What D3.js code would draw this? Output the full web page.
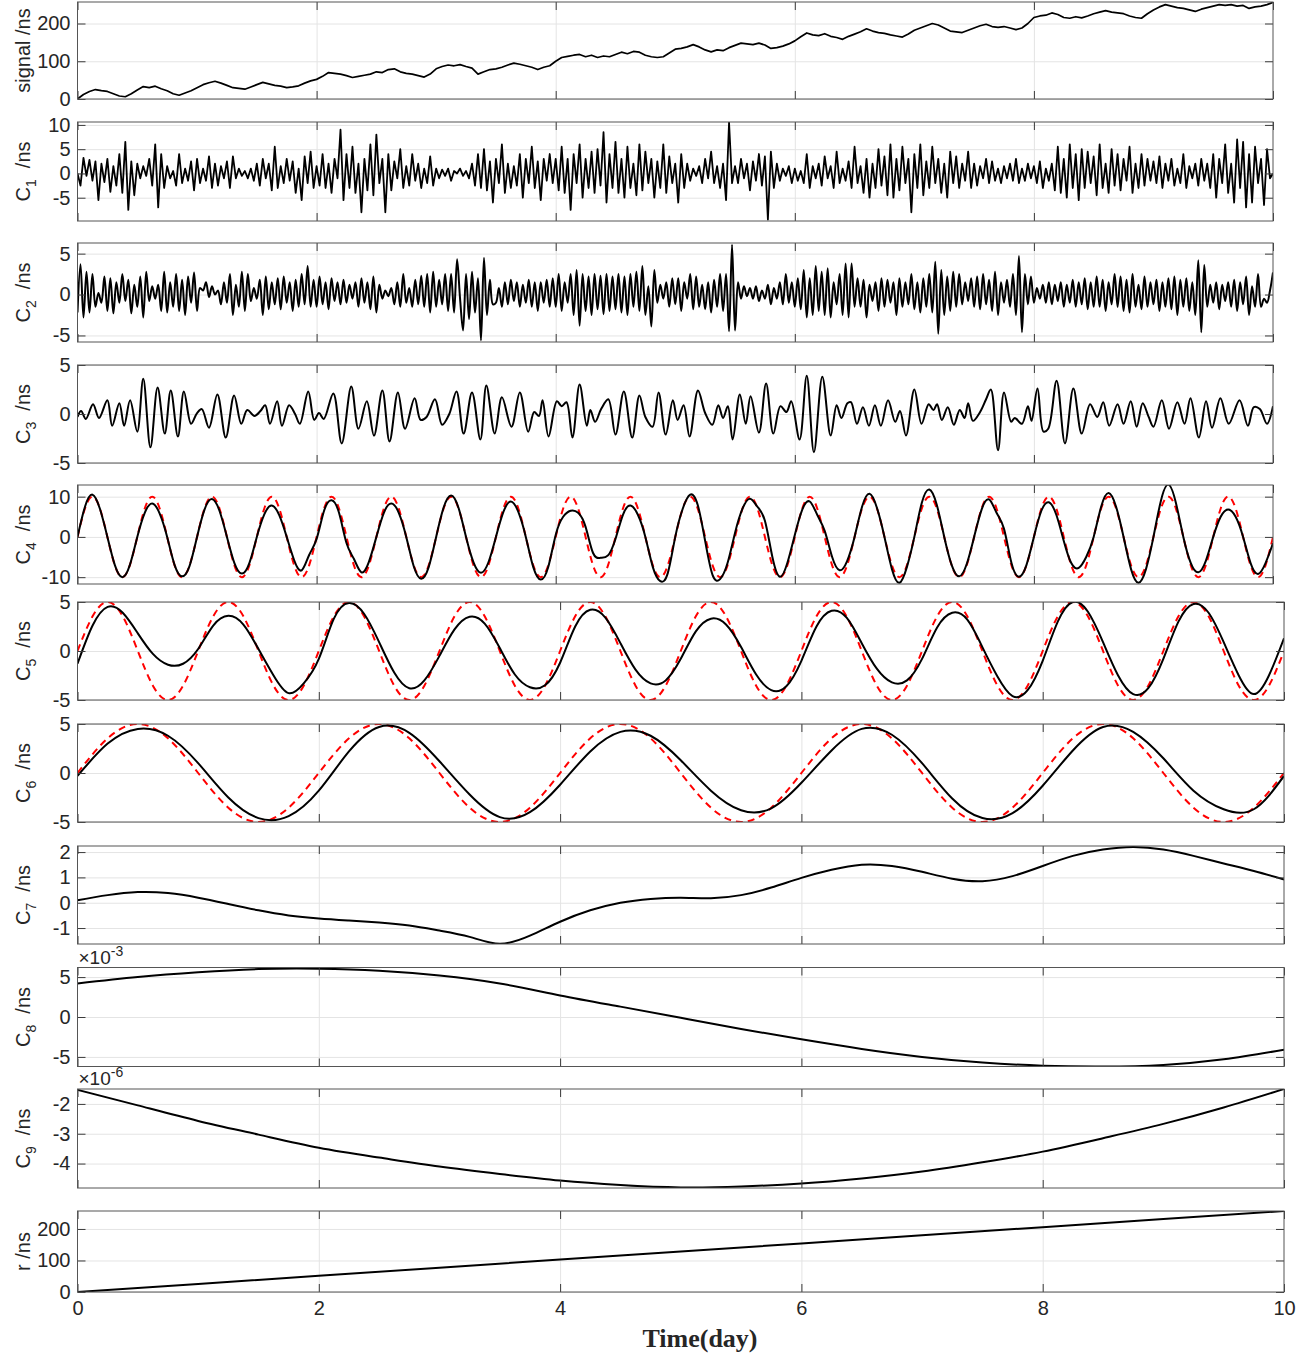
<!DOCTYPE html>
<html lang="en">
<head>
<meta charset="UTF-8"/>
<script src="https://d3js.org/d3.v7.min.js"></script>
<style>
  body { margin: 0; background: #fff; }
  text { font-family: "Liberation Sans", Arial, sans-serif; fill: #262626; }
</style>
<title>Decomposition panels</title>
</head>
<body>
<script>
// x axis: time in days
var dayTicks = [0, 2, 4, 6, 8, 10];

// raw signal, one value every 0.05 day
var signal = [0,12,20,25,22,20,14,8,6,14,
  24,33,30,34,27,22,14,10,16,22,
  30,38,43,47,42,36,30,28,26,32,
  38,44,40,36,34,30,32,35,42,48,
  52,60,70,68,66,62,57,60,63,66,
  72,70,78,80,72,68,66,62,58,66,
  80,86,90,88,91,86,82,66,72,78,
  80,84,90,95,92,88,84,78,84,88,
  100,110,113,116,118,112,116,110,114,112,
  118,124,120,126,124,116,112,110,112,122,
  132,134,138,144,138,130,125,130,128,136,
  142,148,146,144,148,143,134,136,140,146,
  154,165,175,170,168,173,166,163,158,166,
  172,178,186,180,176,174,170,167,164,172,
  182,188,194,200,196,188,180,178,176,182,
  188,194,198,192,190,192,188,184,188,200,
  216,220,222,228,224,216,214,218,215,220,
  226,230,234,230,228,226,220,216,214,226,
  236,244,250,246,242,240,236,232,238,242,
  246,250,248,250,246,248,240,244,246,250,
  256];

// C1, every 0.025 day
var c1 = [0,-2.5,3.2,-0.5,2.8,-1.5,2.5,-5.5,2,-1.8,3,-3.8,1.5,-2.5,4,-4,6.5,-7.5,2.5,-4.5,
  2,-1,1.5,-0.5,3,-2.5,6,-7,4,-3,1.5,-1,0.5,-2.5,4,-2,1,-1.5,2.5,-3.5,
  3,-2,1,-1.5,3.5,-3,2,-2.5,1.5,-1,2.5,-3,3.5,-1,1,-0.5,0.5,-1,1,-1.5,
  2,-2.5,3,-1,2,-3.5,5.5,-3,1.5,-2,3,-1.5,2.5,-4,1,-5.5,3.5,-2,4.5,-3,
  1.5,-2.5,4,-3,2,-4,3,-1,9,-5.5,4,-3,5.5,-4,2,-8,3,-3.5,6,-4.5,
  8,-2,3,-8,4,-3.5,2.5,-1,5,-3,1.5,-2.5,4,-1.5,2,-3,1,-2,3.5,-2.5,
  1,-1,0.8,-0.5,1,-1.5,0.5,0,1,-0.5,0.5,-1,2,-2.5,4,-3,5,-3.5,2.5,-6,
  3,-2,6,-4,2,-3,1.5,-2.5,4,-5,3,-2,5.5,-3,2.5,-5.5,3,-1.5,4,-2,
  3,-3.5,5.5,-4,3,-7.5,4,-2,6,-5,3,-3,4.5,-4,5,-2.5,8.5,-6,4,-3,
  6.5,-4,3,-5,5.5,-3,2,-4.5,6,-3.5,4.5,-2,3,-5,2.5,-3,6,-4,3.5,-2,
  2,-6,4,-3,2,-1.5,1,-0.5,1.5,-2,3,-1,4.5,-2,1.5,-3,2,-5.5,10.5,-2,
  1.5,-2,3,-1,2,-3.5,2.5,-1.5,4,-2.5,3.5,-9.5,4.5,-3,2,-1.5,1,-0.5,1.5,-2,
  1,-1.5,0.5,-2,4,-3,1.5,-1,2,-2.5,3.5,-1,1.5,-3,4.5,-2,1,-1.5,2.5,-3,
  5.5,-2,1.5,-4,3,-5,2,-3,5,-2.5,3.5,-4.5,6,-5,3,-3.5,5.5,-2,3,-8,
  4,-3,6,-4.5,2.5,-3,5.5,-2,3,-4,2,-5,4.5,-2,3.5,-3,2,-1.5,4.5,-3,
  2,-2.5,1.5,-1,3,-2,2.5,-1.5,1,-2,1.5,-1,2,-1.5,3,-2,1,-1.5,2,-1,
  1.5,-2,2.5,-3,1,-1.5,2,-3.5,5.5,-4,3,-5,6,-3,4,-5.5,5,-3,4.5,-2,
  3.5,-4.5,6,-3,2,-4,5,-2.5,4,-3.5,3,-1.5,5.5,-4,2,-3,4,-2.5,3,-1.5,
  2.5,-2,3.5,-3,2,-1.5,3,-2.5,1,-2,4,-3,1.5,-1,2,-2.5,3,-1.5,2,-3,
  4,-5,3,-2,6,-4,2,-6,7,-3,6.5,-7,4,-6,5.5,-2,3,-6.5,5,-1,
  0];

// C2, every 0.025 day
var c2 = [-2.2,3.7,-2.8,2.8,-2.2,2.5,-1.5,0.2,-1,2.2,-2,2,-2.3,1.5,-1,2.5,-0.8,1.8,-2.3,1.2,
  -1.5,2.2,-2.8,2.8,-0.8,1,-0.5,1.2,-2,2.8,-2.2,1.5,-1.5,2.5,-2,1.8,-2.5,2.2,-1,2.7,
  -2,0.8,0.5,1.5,-0.3,1,0,0.5,-1.2,1.5,-1,2.5,-2.5,1.2,-1.5,2.8,-2,2.5,-0.8,0.8,
  -0.5,1.8,-2.5,2.2,-1.8,1.5,-1.2,2,-1.8,2.2,-1,1.5,-2,1.8,-1.5,2.5,-1.2,3.5,-1.5,1.8,
  -1.5,2.2,-1.2,1.5,-1.8,2,-0.8,1.5,-1.2,1.8,-1,1.2,-0.5,1.5,-1.5,2,-1,1.5,-1.8,2.2,
  -2.2,1.2,-0.5,0.5,-0.2,0.8,-1.2,1.5,-1.5,2.5,-1,0.8,-1.5,1.8,-1.2,2.3,-1.5,2.5,-2.2,2.8,
  -1.5,1.8,-1.2,2.5,-2,2.5,-2.2,4.3,-0.5,-4.4,2.5,-3,2.8,-2.2,2,-5.6,4.5,-2.5,1.8,-1.2,
  -1,0.8,-1.5,1.5,-1.2,1.8,-0.8,1.5,-1.5,1.2,-1,1.8,-1.5,1.5,-2,1.5,-1,1.8,-1.5,2,
  -1.5,2.5,-2,1.5,-1,2.5,-2.5,3,-3.8,2.5,-2,2.2,-2.5,2.5,-1.8,2.3,-2.4,2.5,-2,2.2,
  -1.8,2.5,-2.2,2.2,-2.5,2.5,-1.5,2.8,-2,3.5,-2.5,1,-3.9,3,-1,1.2,-0.5,1.5,-1.5,2,
  -1.2,2,-2,1.5,-0.5,2.5,-1.8,2.2,-1.5,1.2,-1.8,1.5,-2.2,1.8,-1.5,2.5,-2,2.5,-4.5,6.1,
  -4.4,1.5,-0.5,1,-0.2,0.8,-0.5,1,-0.8,0.5,-0.5,1.2,-1.2,0.8,-0.5,1.5,-1.2,2.5,-1,1.5,
  -1.5,2,-1.8,3,-2.8,2,-2.5,3.5,-2,2.8,-2.5,3.2,-2.8,1.5,-1.2,2.5,-2.5,3.8,-2.8,3.8,
  -1.5,2,-1.5,1.8,-2.8,1.2,-0.8,1.5,-2,2,-1.5,1.8,-1,1.5,-2.5,2,-1.5,1.5,-1.2,2.5,
  -1.8,1.5,-2.2,2,-1.5,2.5,-2.2,4,-4.8,3,-2.5,2.2,-2,2.8,-1.5,2.5,-1.2,1.5,-0.8,2,
  -1.5,2.2,-1.8,2.5,-1.2,1.8,-2,2.8,-2.5,1.5,-1,1.8,-1.5,2.5,-2.5,4.7,-4.6,2.5,-1.2,2.2,
  -1,0.8,-0.5,1.2,-1,1.5,-1.2,1.2,-0.8,1.5,-1.5,1.2,-1,1.8,-1.5,1.5,-1.2,2,-1.8,1.5,
  -1.5,2.2,-1.5,1.8,-2,1.5,-1.2,2.5,-1.5,2.2,-2,1.8,-2.2,2.5,-1.5,1.2,-1.8,2.2,-1.5,1.5,
  -1.2,1.8,-2,1.5,-1.5,2,-1.8,2.2,-2.5,1.8,-1.5,2,-2,1.5,-2.5,4.2,-4.6,3.6,-1.5,1.2,
  -1,1.5,-1.8,1.2,-0.8,1.5,-1.5,1.8,-2,1.5,-1.2,2.2,-2.5,1,-1.5,2.5,-1.5,-0.5,-1,0.5,
  2.7];

// C3, [day, value] at its turning points
var c3 = [[0,-0.3],[0.03,0.3],[0.07,-0.5],[0.13,1.0],[0.18,-0.4],[0.25,1.4],[0.29,-1.2],[0.35,1.1],
  [0.39,-1.2],[0.44,1.4],[0.50,-1.8],[0.55,3.6],[0.61,-3.4],[0.67,2.7],[0.73,-2.0],[0.78,2.4],
  [0.84,-2.3],[0.89,2.3],[0.95,-1.0],[1.00,0.1],[1.04,0.5],[1.10,-1.4],[1.17,2.0],[1.24,-2.4],
  [1.31,1.9],[1.37,-1.0],[1.42,0.4],[1.48,-0.2],[1.53,0.3],[1.57,0.9],[1.61,-1.0],[1.67,1.3],
  [1.71,-1.2],[1.77,0.9],[1.82,0.0],[1.86,-1.0],[1.93,2.3],[1.98,-0.6],[2.02,0.1],[2.06,-0.5],
  [2.14,2.1],[2.21,-3.0],[2.29,2.8],[2.35,-1.5],[2.42,1.3],[2.48,-2.2],[2.55,2.4],[2.61,-2.8],
  [2.68,2.2],[2.74,-1.5],[2.82,1.6],[2.87,-0.6],[2.92,-0.3],[2.99,1.5],[3.05,-1.1],[3.11,0.0],
  [3.17,2.3],[3.23,-2.0],[3.30,2.2],[3.37,-2.6],[3.42,2.9],[3.49,-2.0],[3.55,1.7],[3.63,-1.3],
  [3.70,2.2],[3.77,-1.8],[3.82,0.2],[3.86,-0.2],[3.89,1.4],[3.94,-2.3],[4.01,1.3],[4.05,0.8],
  [4.09,1.2],[4.14,-2.4],[4.20,3.0],[4.26,-1.2],[4.29,0.4],[4.33,-0.8],[4.38,0.5],[4.44,1.5],
  [4.50,-2.1],[4.57,2.3],[4.64,-2.4],[4.70,1.9],[4.75,-0.3],[4.81,-1.3],[4.86,2.2],[4.92,-2.1],
  [4.98,1.4],[5.02,-0.6],[5.07,0.9],[5.12,-2.3],[5.19,2.4],[5.25,0.1],[5.31,-1.1],[5.36,0.9],
  [5.40,-0.4],[5.44,0.8],[5.48,-2.6],[5.54,2.0],[5.59,-1.0],[5.63,1.8],[5.70,-1.9],[5.76,3.1],
  [5.82,-2.0],[5.88,0.8],[5.93,0.2],[5.97,1.3],[6.04,-2.6],[6.10,3.9],[6.16,-3.9],[6.23,3.8],
  [6.30,-2.2],[6.35,0.9],[6.39,-0.4],[6.44,1.1],[6.47,1.2],[6.52,-1.0],[6.57,0.7],[6.62,-1.2],
  [6.67,0.9],[6.72,-1.2],[6.78,1.4],[6.84,-0.8],[6.88,0.3],[6.93,-2.2],[7.00,2.5],[7.06,-1.0],
  [7.12,1.0],[7.16,0.4],[7.19,1.0],[7.23,-0.6],[7.28,0.7],[7.33,-1.1],[7.38,0.4],[7.42,-0.4],
  [7.45,1.1],[7.49,-0.7],[7.55,0.2],[7.60,1.5],[7.64,2.5],[7.70,-3.7],[7.75,2.2],[7.81,-0.8],
  [7.84,-0.4],[7.90,-1.0],[7.95,0.8],[7.98,-0.7],[8.03,2.6],[8.08,-1.8],[8.12,-1.5],[8.19,3.4],
  [8.26,-3.0],[8.33,2.6],[8.40,-2.0],[8.47,1.0],[8.53,-0.3],[8.58,1.2],[8.63,-1.2],[8.70,1.0],
  [8.75,-1.0],[8.81,1.3],[8.86,-1.3],[8.91,1.1],[8.96,-0.3],[9.00,-1.3],[9.07,1.4],[9.13,-1.5],
  [9.20,1.2],[9.26,-1.0],[9.31,1.6],[9.38,-2.4],[9.44,1.3],[9.49,-1.4],[9.56,1.6],[9.63,-1.0],
  [9.72,1.4],[9.79,-1.2],[9.84,0.7],[9.89,0.5],[9.95,-1.0],[10.0,0.8]];

// C4 and its reference wave, every 1/16 day
var c4 = [0,7.5,10.5,7,0,-7,-10,-7, 0,6,8.3,5.8,0,-7,-9.8,-7.2,
  0,6.8,9.4,6.5,0,-6.5,-9.1,-6.5, 0,5.6,7.8,5.4,0,-5.8,-8.3,-4.5,
  -0.5,6.5,9.1,6,-1.5,-5.5,-8.8,-6.2, 0,6,8.3,6,0,-7.3,-10.4,-7.5,
  0,7.3,10.3,7.2,0,-6.3,-8.9,-6.3, 0,6.2,8.8,6.2,0,-7.5,-10.6,-7.5,
  0.5,5,6.5,6,2.5,-4,-5.2,-4.6, -0.5,5.5,7.8,5.5,0,-7.5,-11,-9,
  0,7,10.5,8,-1,-9.5,-10.5,-6.5, 1,7,9.5,7.5,4,-5,-9.9,-6.5,
  0.5,6.8,8.8,5.5,1.5,-5,-8.3,-6, 0,7.5,10.7,7.2,0,-8,-11.4,-7.5,
  0,8.5,11.8,8,0,-7,-9.8,-6.8, 0,6.8,9.3,6,2,-6.5,-9.9,-7,
  0,6.5,8.6,5.5,-1,-6.5,-7.7,-5, 0,7.5,10.9,7.5,0,-8,-11.4,-8,
  0,9,13,8.5,0,-6.5,-8.8,-6, 0,5,6.8,5,0,-6.5,-9.2,-6.5,
  -1.6];
var c4ref = [0,7.07,10,7.07,0,-7.07,-10,-7.07, 0,7.07,10,7.07,0,-7.07,-10,-7.07,
  0,7.07,10,7.07,0,-7.07,-10,-7.07, 0,7.07,10,7.07,0,-7.07,-10,-7.07,
  0,7.07,10,7.07,0,-7.07,-10,-7.07, 0,7.07,10,7.07,0,-7.07,-10,-7.07,
  0,7.07,10,7.07,0,-7.07,-10,-7.07, 0,7.07,10,7.07,0,-7.07,-10,-7.07,
  0,7.07,10,7.07,0,-7.07,-10,-7.07, 0,7.07,10,7.07,0,-7.07,-10,-7.07,
  0,7.07,10,7.07,0,-7.07,-10,-7.07, 0,7.07,10,7.07,0,-7.07,-10,-7.07,
  0,7.07,10,7.07,0,-7.07,-10,-7.07, 0,7.07,10,7.07,0,-7.07,-10,-7.07,
  0,7.07,10,7.07,0,-7.07,-10,-7.07, 0,7.07,10,7.07,0,-7.07,-10,-7.07,
  0,7.07,10,7.07,0,-7.07,-10,-7.07, 0,7.07,10,7.07,0,-7.07,-10,-7.07,
  0,7.07,10,7.07,0,-7.07,-10,-7.07, 0,7.07,10,7.07,0,-7.07,-10,-7.07,
  0];

// C5 and its reference wave, every 1/8 day
var c5 = [-1.3,2.6,4.5,3.9,1.8,-0.3,-1.4,-1.3, 0.2,2.6,3.6,2.7,0.2,-2.5,-4.3,-3.3,
  -0.8,3.3,4.9,3.8,0.9,-2.2,-3.8,-3, -0.5,2.2,3.5,2.8,0.3,-2.4,-3.7,-3.5,
  -1.2,2.5,4.2,3.4,0.8,-1.9,-3.3,-3, -0.8,2,3.3,2.7,0.4,-2.4,-4,-3.6,
  -1,2.5,4.1,3.4,0.8,-1.8,-3.2,-3, -0.8,2.4,3.9,3.2,0.4,-2.6,-4.6,-4,
  -1,3,5,4,0.9,-2.5,-4.4,-3.8, -0.8,3,4.8,3.9,0.9,-2.5,-4.4,-2.5,
  1.3];
var c5ref = [0,3.54,5,3.54,0,-3.54,-5,-3.54, 0,3.54,5,3.54,0,-3.54,-5,-3.54,
  0,3.54,5,3.54,0,-3.54,-5,-3.54, 0,3.54,5,3.54,0,-3.54,-5,-3.54,
  0,3.54,5,3.54,0,-3.54,-5,-3.54, 0,3.54,5,3.54,0,-3.54,-5,-3.54,
  0,3.54,5,3.54,0,-3.54,-5,-3.54, 0,3.54,5,3.54,0,-3.54,-5,-3.54,
  0,3.54,5,3.54,0,-3.54,-5,-3.54, 0,3.54,5,3.54,0,-3.54,-5,-3.54,
  0];

// C6 and its reference wave, every 1/4 day
var c6 = [-0.3,3,4.5,3.8,1,-2.5,-4.6,-4.4, -1.8,2.2,4.7,4.1,1.2,-2.2,-4.5,-4,
  -1.2,2.2,4.2,3.8,1.3,-1.8,-3.8,-3.6, -1,2.3,4.5,3.9,1,-2.6,-4.6,-4.1,
  -1.3,2.3,4.7,4.2,1.5,-1.8,-3.7,-3.7, -0.3];
var c6ref = [0,3.54,5,3.54,0,-3.54,-5,-3.54, 0,3.54,5,3.54,0,-3.54,-5,-3.54,
  0,3.54,5,3.54,0,-3.54,-5,-3.54, 0,3.54,5,3.54,0,-3.54,-5,-3.54,
  0,3.54,5,3.54,0,-3.54,-5,-3.54, 0];

// C7 every 1/4 day
var c7 = [0.1,0.3,0.42,0.38,0.2,-0.05,-0.3,-0.5,-0.62,-0.7,-0.78,-0.9,-1.1,-1.35,-1.62,-1.3,
  -0.75,-0.3,0,0.15,0.2,0.18,0.3,0.6,0.98,1.3,1.5,1.45,1.22,0.95,0.85,1.05,
  1.45,1.85,2.1,2.2,2.1,1.85,1.55,1.25,0.92];

// C8 (x 1e-3) and C9 (x 1e-6), every 1/2 day
var c8 = [4.2,5,5.6,6,6.05,5.8,5.2,4.2,2.7,1.3,-0.1,-1.5,-2.8,-4,-5,-5.7,-6.1,-6.2,-6,-5.3,-4.1];
var c9 = [-1.53,-2.05,-2.57,-3.03,-3.47,-3.8,-4.1,-4.35,-4.57,-4.72,-4.8,-4.77,-4.67,-4.5,-4.27,
  -3.96,-3.6,-3.15,-2.67,-2.12,-1.5];

// residual, every day
var resid = [0,25.7,51.4,77.1,102.8,128.5,154.2,179.9,205.6,231.3,257];

// spread a uniform series over 0..10 days
function spread(vals) {
  var n = vals.length;
  return vals.map(function(v, i) { return [i * 10 / (n - 1), v]; });
}

// plain tick text with an ascii minus, like the original figure
function plain(d) { return String(d); }

var W = 1297, H = 1356, x0 = 77.5;

var panels = [
  {top: 2,    bottom: 99,   right: 1273, domain: [0, 257],      ticks: [0, 100, 200],  label: "signal /ns",
   series: [{pts: spread(signal), curve: d3.curveLinear, w: 1.7}]},
  {top: 122,  bottom: 221,  right: 1273, domain: [-9.8, 10.6],  ticks: [-5, 0, 5, 10], sub: "1",
   series: [{pts: spread(c1), curve: d3.curveLinear, w: 1.8}]},
  {top: 243,  bottom: 342,  right: 1273, domain: [-5.8, 6.3],   ticks: [-5, 0, 5],     sub: "2",
   series: [{pts: spread(c2), curve: d3.curveCatmullRom, w: 2}]},
  {top: 365,  bottom: 463,  right: 1273, domain: [-5, 5],       ticks: [-5, 0, 5],     sub: "3",
   series: [{pts: c3, curve: d3.curveCatmullRom, w: 2}]},
  {top: 485,  bottom: 584,  right: 1273, domain: [-11.7, 12.9], ticks: [-10, 0, 10],   sub: "4",
   series: [{pts: spread(c4ref), curve: d3.curveNatural, red: true},
            {pts: spread(c4), curve: d3.curveNatural, w: 2}]},
  {top: 602,  bottom: 700,  right: 1284, domain: [-5, 5],       ticks: [-5, 0, 5],     sub: "5",
   series: [{pts: spread(c5ref), curve: d3.curveNatural, red: true},
            {pts: spread(c5), curve: d3.curveNatural, w: 2}]},
  {top: 724,  bottom: 822,  right: 1284, domain: [-5, 5],       ticks: [-5, 0, 5],     sub: "6",
   series: [{pts: spread(c6ref), curve: d3.curveNatural, red: true},
            {pts: spread(c6), curve: d3.curveNatural, w: 2}]},
  {top: 846,  bottom: 944,  right: 1284, domain: [-1.63, 2.24], ticks: [-1, 0, 1, 2],  sub: "7",
   series: [{pts: spread(c7), curve: d3.curveNatural, w: 2}]},
  {top: 967.5, bottom: 1066.5, right: 1284, domain: [-6.2, 6.2], ticks: [-5, 0, 5],   sub: "8", exp: "-3",
   series: [{pts: spread(c8), curve: d3.curveNatural, w: 2}]},
  {top: 1089, bottom: 1188, right: 1284, domain: [-4.82, -1.5], ticks: [-4, -3, -2],   sub: "9", exp: "-6",
   series: [{pts: spread(c9), curve: d3.curveNatural, w: 2}]},
  {top: 1211, bottom: 1292, right: 1284, domain: [0, 257],      ticks: [0, 100, 200],  label: "r /ns",
   series: [{pts: spread(resid), curve: d3.curveLinear, w: 2}]}
];

var svg = d3.select("body").append("svg")
    .attr("width", W)
    .attr("height", H);

panels.forEach(function(p, idx) {
  var x = d3.scaleLinear().domain([0, 10]).range([x0, p.right]);
  var y = d3.scaleLinear().domain(p.domain).range([p.bottom, p.top]);
  var w = p.right - x0, h = p.bottom - p.top;
  var g = svg.append("g");

  // grid
  g.append("g")
    .attr("transform", "translate(" + x0 + ",0)")
    .call(d3.axisLeft(y).tickValues(p.ticks).tickSize(-w).tickFormat(""))
    .call(function(s) { s.select(".domain").remove(); s.selectAll("line").attr("stroke", "#e4e4e4"); });
  g.append("g")
    .attr("transform", "translate(0," + p.bottom + ")")
    .call(d3.axisBottom(x).tickValues([2, 4, 6, 8]).tickSize(-h).tickFormat(""))
    .call(function(s) { s.select(".domain").remove(); s.selectAll("line").attr("stroke", "#e4e4e4"); });

  // curves
  var cid = "clip" + idx;
  g.append("clipPath").attr("id", cid)
    .append("rect").attr("x", x0).attr("y", p.top).attr("width", w).attr("height", h);
  p.series.forEach(function(s) {
    var line = d3.line()
      .x(function(d) { return x(d[0]); })
      .y(function(d) { return y(d[1]); })
      .curve(s.curve);
    g.append("path")
      .attr("clip-path", "url(#" + cid + ")")
      .attr("d", line(s.pts))
      .attr("fill", "none")
      .attr("stroke", s.red ? "#ff0000" : "#000")
      .attr("stroke-width", s.red ? 2 : s.w)
      .attr("stroke-dasharray", s.red ? "7,5" : null)
      .attr("stroke-linejoin", "round");
  });

  // ticks, pointing inward on all four sides
  g.append("g")
    .attr("transform", "translate(" + x0 + ",0)")
    .call(d3.axisLeft(y).tickValues(p.ticks).tickSize(-8).tickPadding(7).tickFormat(plain))
    .call(function(s) {
      s.select(".domain").remove();
      s.selectAll("line").attr("stroke", "#3a3a3a");
      s.selectAll("text").style("font-size", "20px").attr("fill", "#262626");
    });
  g.append("g")
    .attr("transform", "translate(" + p.right + ",0)")
    .call(d3.axisRight(y).tickValues(p.ticks).tickSize(-8).tickFormat(""))
    .call(function(s) { s.select(".domain").remove(); s.selectAll("line").attr("stroke", "#3a3a3a"); });
  g.append("g")
    .attr("transform", "translate(0," + p.top + ")")
    .call(d3.axisTop(x).tickValues(dayTicks).tickSize(-8).tickFormat(""))
    .call(function(s) { s.select(".domain").remove(); s.selectAll("line").attr("stroke", "#3a3a3a"); });
  var last = idx === panels.length - 1;
  var bx = d3.axisBottom(x).tickValues(dayTicks).tickSize(-8).tickPadding(9)
    .tickFormat(last ? plain : "");
  g.append("g")
    .attr("transform", "translate(0," + p.bottom + ")")
    .call(bx)
    .call(function(s) {
      s.select(".domain").remove();
      s.selectAll("line").attr("stroke", "#3a3a3a");
      s.selectAll("text").style("font-size", "20px").attr("fill", "#262626");
    });

  // frame
  g.append("rect")
    .attr("x", x0).attr("y", p.top)
    .attr("width", w).attr("height", h)
    .attr("fill", "none")
    .attr("stroke", "#555");

  // y label
  var lab = g.append("text")
    .attr("transform", "translate(30," + (p.top + h / 2) + ") rotate(-90)")
    .attr("text-anchor", "middle")
    .style("font-size", "20px");
  if (p.sub) {
    lab.append("tspan").text("C");
    lab.append("tspan").attr("dy", 6).style("font-size", "14px").text(p.sub);
    lab.append("tspan").attr("dy", -6).text("\u00a0\u00a0/ns");
  } else {
    lab.text(p.label);
  }

  // exponent
  if (p.exp) {
    var ex = g.append("text")
      .attr("x", x0 + 1)
      .attr("y", p.top - 4)
      .style("font-size", "19px");
    ex.append("tspan").text("\u00d710");
    ex.append("tspan").attr("dy", -8).style("font-size", "14px").text(p.exp);
  }
});

// x title
svg.append("text")
  .attr("x", 700)
  .attr("y", 1347)
  .attr("text-anchor", "middle")
  .style("font-family", "'Liberation Serif', 'Times New Roman', serif")
  .style("font-weight", "bold")
  .style("font-size", "26px")
  .attr("fill", "#000")
  .text("Time(day)");
</script>
</body>
</html>
